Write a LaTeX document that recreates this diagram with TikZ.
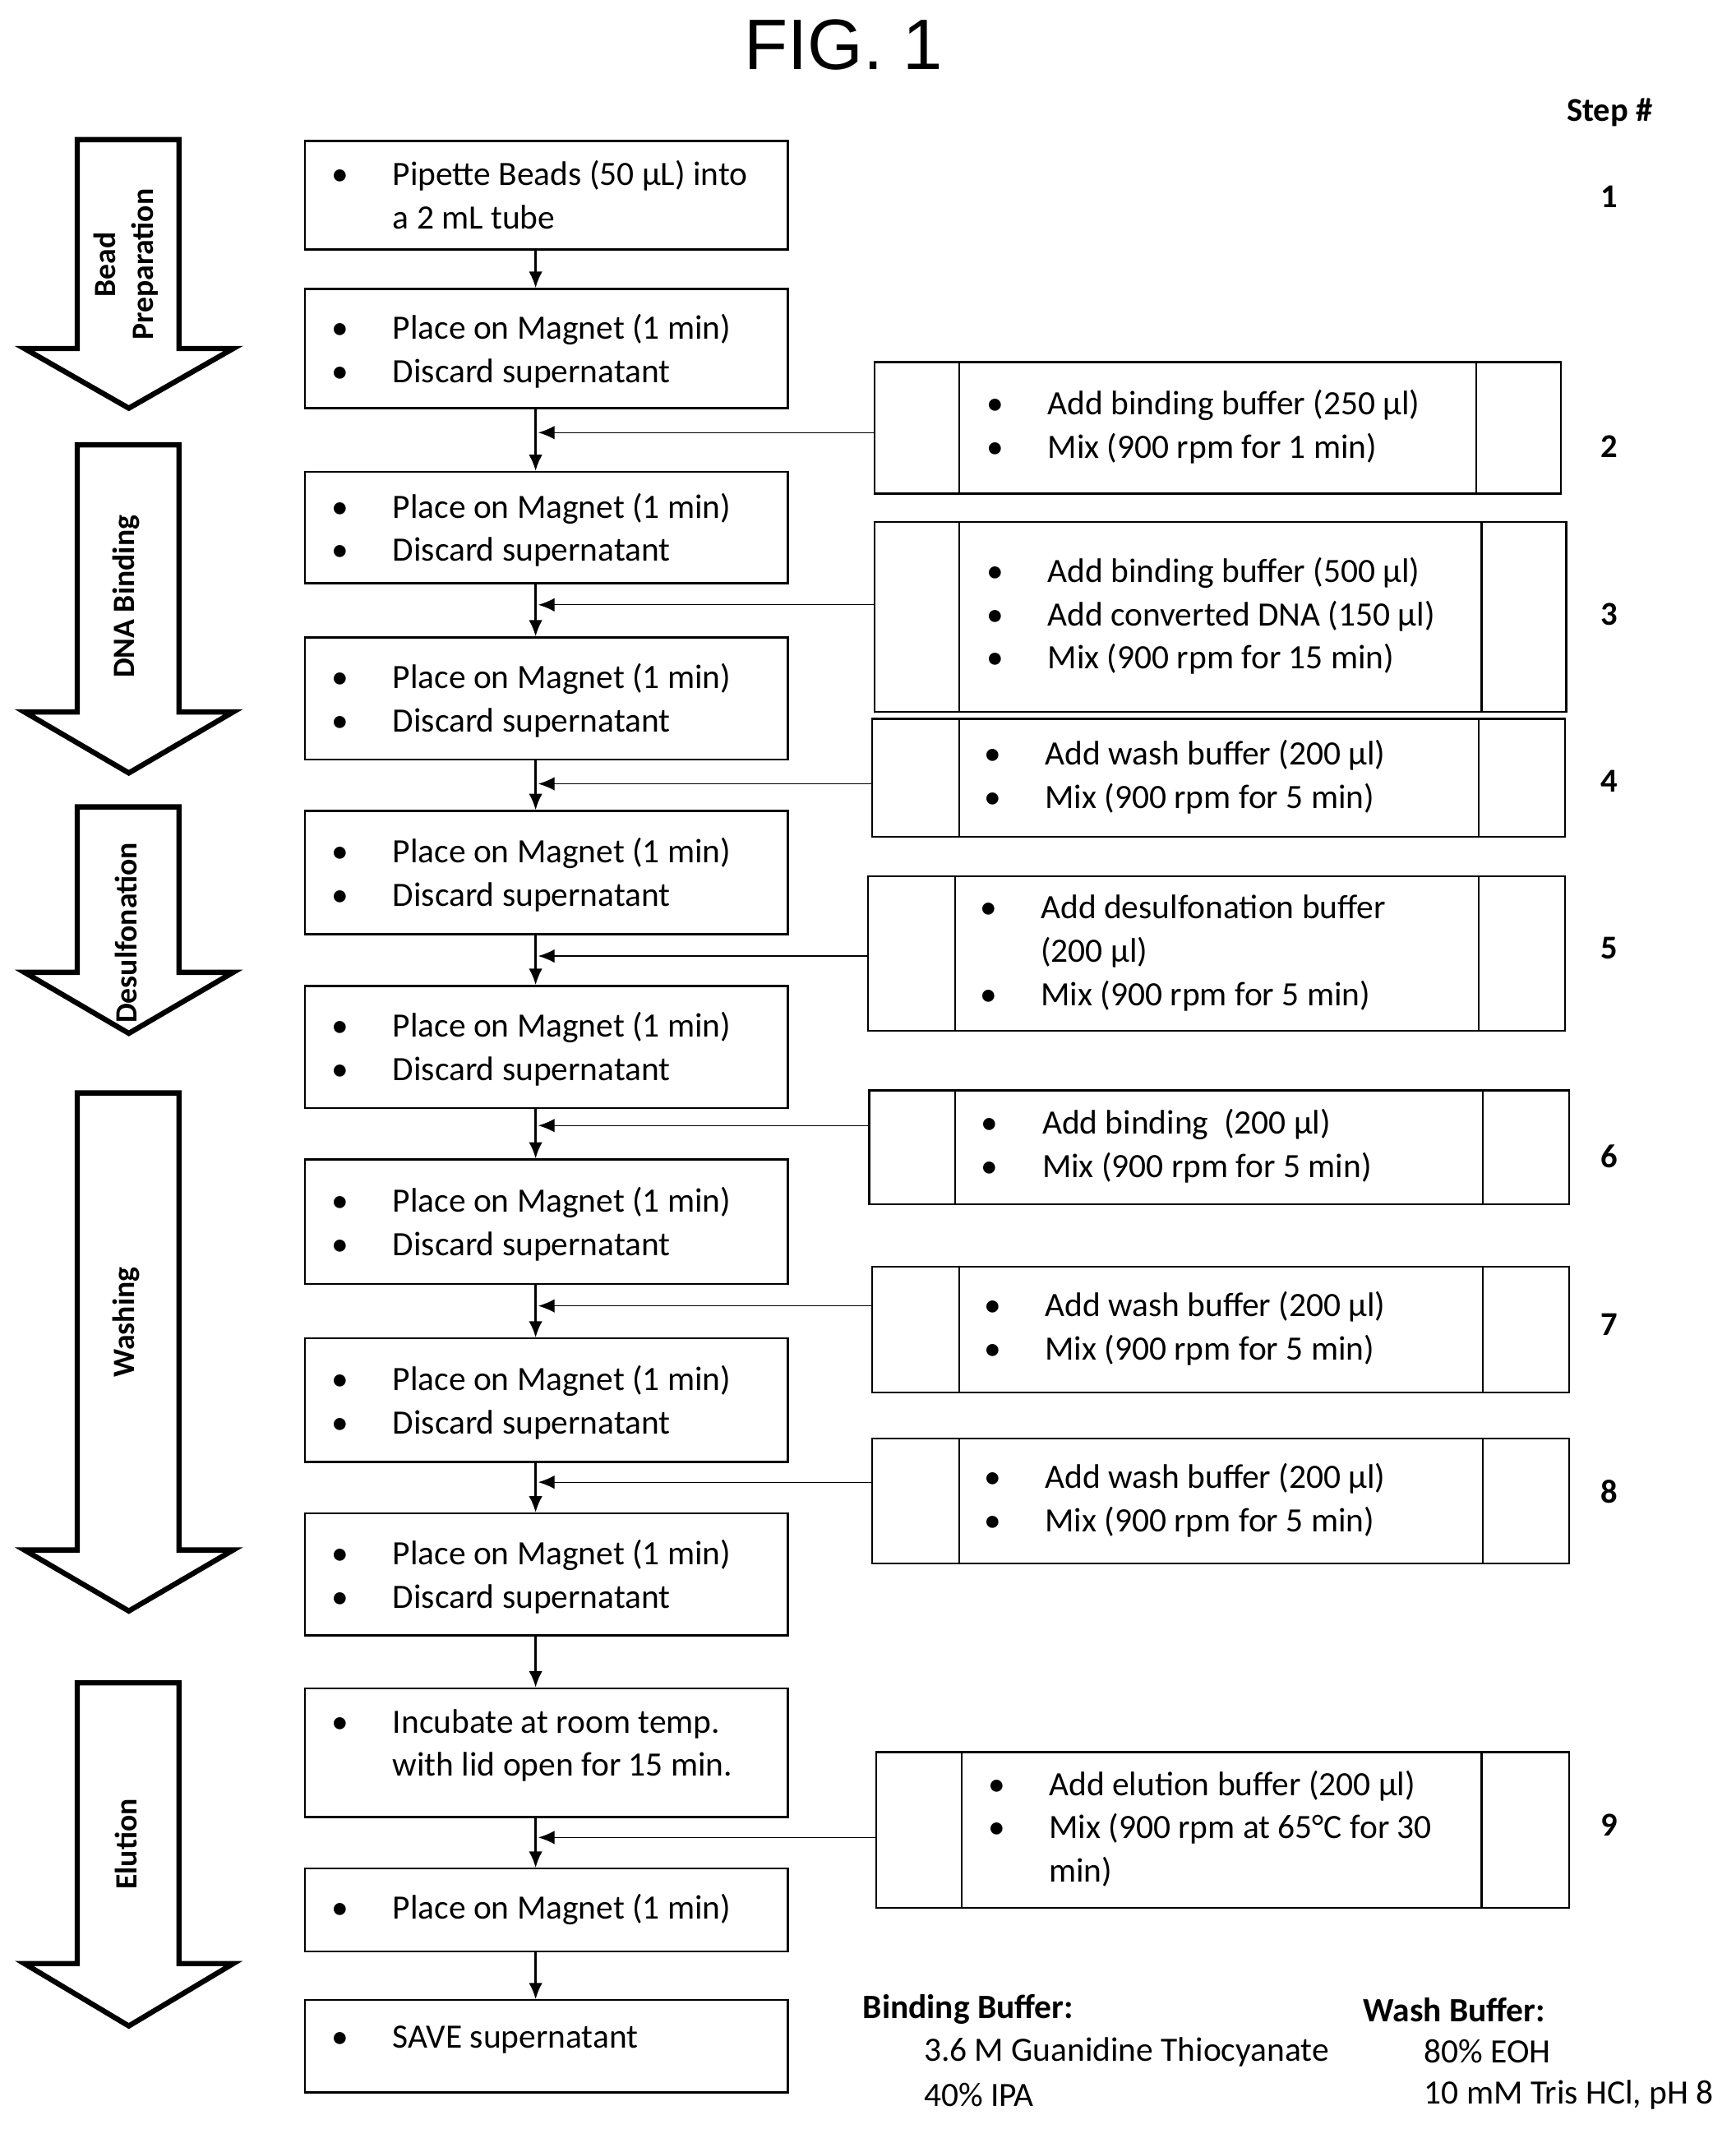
\documentclass[tikz,border=0pt]{standalone}
\usepackage{fontspec}
\setmainfont{Carlito}
\newfontfamily\titlefont{Liberation Sans}
\usetikzlibrary{fit,arrows.meta,calc}
\newcommand\pbox[2]{\begin{tabular}{@{}l@{\hspace{0.65cm}}p{#1}@{}}#2\end{tabular}}
\begin{document}
\begin{tikzpicture}[x=0.02cm,y=-0.02cm,
box/.style={draw,thick,inner sep=0pt},
txt/.style={anchor=west,inner sep=0pt,font=\fontsize{14.3}{18.2}\selectfont},
bigarrow/.style={draw,line width=2.2pt,fill=white},
stage/.style={rotate=90,font=\fontsize{13}{16}\selectfont\bfseries,align=center},
stepnum/.style={font=\fontsize{14}{17}\selectfont\bfseries},
>={Latex[length=2.4mm,width=2mm]}]
\useasboundingbox (0,0) rectangle (1280,1570);

\node (title) at (622,33) {\titlefont\fontsize{30}{36}\selectfont FIG. 1};
\node[stepnum] (stephd) at (1187,83) {Step \#};

% stage arrows
\draw[bigarrow] (57,103)--(132,103)--(132,257)--(172,257)--(95,301)--(18,257)--(57,257)--cycle;
\draw[bigarrow] (57,328)--(132,328)--(132,525)--(172,525)--(95,570)--(18,525)--(57,525)--cycle;
\draw[bigarrow] (57,595)--(132,595)--(132,717)--(172,717)--(95,762)--(18,717)--(57,717)--cycle;
\draw[bigarrow] (57,806)--(132,806)--(132,1143)--(172,1143)--(95,1188)--(18,1143)--(57,1143)--cycle;
\draw[bigarrow] (57,1241)--(132,1241)--(132,1448)--(172,1448)--(95,1494)--(18,1448)--(57,1448)--cycle;
\node[stage] (s1) at (93,195) {Bead\\Preparation};
\node[stage] (s2) at (93,440) {DNA Binding};
\node[stage] (s3) at (93,688) {Desulfonation};
\node[stage] (s4) at (93,975) {Washing};
\node[stage] (s5) at (93,1360) {Elution};

% main column
\node[box,fit={(225,104)(581,184)}] (b1) {};
\node[box,fit={(225,213)(581,301)}] (b2) {};
\node[box,fit={(225,348)(581,430)}] (b3) {};
\node[box,fit={(225,470)(581,560)}] (b4) {};
\node[box,fit={(225,598)(581,689)}] (b5) {};
\node[box,fit={(225,727)(581,817)}] (b6) {};
\node[box,fit={(225,855)(581,947)}] (b7) {};
\node[box,fit={(225,987)(581,1078)}] (b8) {};
\node[box,fit={(225,1116)(581,1206)}] (b9) {};
\node[box,fit={(225,1245)(581,1340)}] (b10) {};
\node[box,fit={(225,1378)(581,1439)}] (b11) {};
\node[box,fit={(225,1475)(581,1543)}] (b12) {};

\node[txt] (t1) at ([xshift=0.4cm,yshift=-0.05cm]b1.west) {\pbox{6cm}{\textbullet & Pipette Beads (50 µL) into\\ & a 2 mL tube}};
\foreach \i in {2,...,9}
  \node[txt] (t\i) at ([xshift=0.4cm,yshift=-0.05cm]b\i.west) {\pbox{6cm}{\textbullet & Place on Magnet (1 min)\\ \textbullet & Discard supernatant}};
\node[txt] (t10) at ([xshift=0.4cm,yshift=0.1cm]b10.west) {\pbox{6cm}{\textbullet & Incubate at room temp.\\ & with lid open for 15 min.}};
\node[txt] (t11) at ([xshift=0.4cm]b11.west) {\pbox{6cm}{\textbullet & Place on Magnet (1 min)}};
\node[txt] (t12) at ([xshift=0.4cm,yshift=0.1cm]b12.west) {\pbox{6cm}{\textbullet & SAVE supernatant}};

\foreach \a/\b in {b1/b2,b2/b3,b3/b4,b4/b5,b5/b6,b6/b7,b7/b8,b8/b9,b9/b10,b10/b11,b11/b12}
  \draw[thick,->] ([xshift=-0.16cm]\a.south) -- ([xshift=-0.16cm]\b.north);

% reagent boxes
\node[box,fit={(645,267)(1151,364)}] (r2) {};
\node[box,fit={(645,385)(1155,525)}] (r3) {};
\node[box,fit={(643,530)(1154,617)}] (r4) {};
\node[box,fit={(640,646)(1154,760)}] (r5) {};
\node[box,fit={(641,804)(1157,888)}] (r6) {};
\node[box,fit={(643,934)(1157,1027)}] (r7) {};
\node[box,fit={(643,1061)(1157,1153)}] (r8) {};
\node[box,fit={(646,1292)(1157,1407)}] (r9) {};
\foreach \r/\l/\m in {r2/63/63,r3/63/63,r4/65/64,r5/65/64,r6/64/64,r7/65/64,r8/65/64,r9/64/65}{
  \draw[thick] ([xshift=\l*0.02cm]\r.north west) -- ([xshift=\l*0.02cm]\r.south west);
  \draw[thick] ([xshift=-\m*0.02cm]\r.north east) -- ([xshift=-\m*0.02cm]\r.south east);
}
\node[txt] (u2) at ([xshift=1.66cm]r2.west) {\pbox{6.2cm}{\textbullet & Add binding buffer (250 µl)\\ \textbullet & Mix (900 rpm for 1 min)}};
\node[txt] (u3) at ([xshift=1.66cm]r3.west) {\pbox{6.2cm}{\textbullet & Add binding buffer (500 µl)\\ \textbullet & Add converted DNA (150 µl)\\ \textbullet & Mix (900 rpm for 15 min)}};
\node[txt] (u4) at ([xshift=1.66cm]r4.west) {\pbox{6.2cm}{\textbullet & Add wash buffer (200 µl)\\ \textbullet & Mix (900 rpm for 5 min)}};
\node[txt] (u5) at ([xshift=1.66cm]r5.west) {\pbox{6.2cm}{\textbullet & Add desulfonation buffer\\ & (200 µl)\\ \textbullet & Mix (900 rpm for 5 min)}};
\node[txt] (u6) at ([xshift=1.66cm]r6.west) {\pbox{6.2cm}{\textbullet & Add binding\ \ (200 µl)\\ \textbullet & Mix (900 rpm for 5 min)}};
\node[txt] (u7) at ([xshift=1.66cm]r7.west) {\pbox{6.2cm}{\textbullet & Add wash buffer (200 µl)\\ \textbullet & Mix (900 rpm for 5 min)}};
\node[txt] (u8) at ([xshift=1.66cm]r8.west) {\pbox{6.2cm}{\textbullet & Add wash buffer (200 µl)\\ \textbullet & Mix (900 rpm for 5 min)}};
\node[txt] (u9) at ([xshift=1.66cm]r9.west) {\pbox{6.2cm}{\textbullet & Add elution buffer (200 µl)\\ \textbullet & Mix (900 rpm at 65°C for 30\\ & min)}};

% feed arrows into main column
\foreach \r/\y in {r2/319,r3/446,r4/578,r5/705,r6/830,r7/963,r8/1093,r9/1355}{
  \coordinate (j\r) at (397,\y);
  \draw[->] (j\r -| \r.west) -- (j\r);
}

% step numbers
\foreach \n/\y in {1/145,2/329,3/453,4/576,5/699,6/853,7/977,8/1100,9/1346}
  \node[stepnum] (n\n) at (1187,\y) {\n};

% buffer legend
\node[txt,font=\fontsize{14.3}{16}\selectfont\bfseries] (bbh) at (636,1482) {Binding Buffer:};
\node[txt] (bb1) at (681,1513) {3.6 M Guanidine Thiocyanate};
\node[txt] (bb2) at (681,1545) {40\% IPA};
\node[txt,font=\fontsize{14.3}{16}\selectfont\bfseries] (wbh) at (1005,1482) {Wash Buffer:};
\node[txt] (wb1) at (1050,1513) {80\% EOH};
\node[txt] (wb2) at (1050,1545) {10 mM Tris HCl, pH 8};
\end{tikzpicture}
\end{document}
